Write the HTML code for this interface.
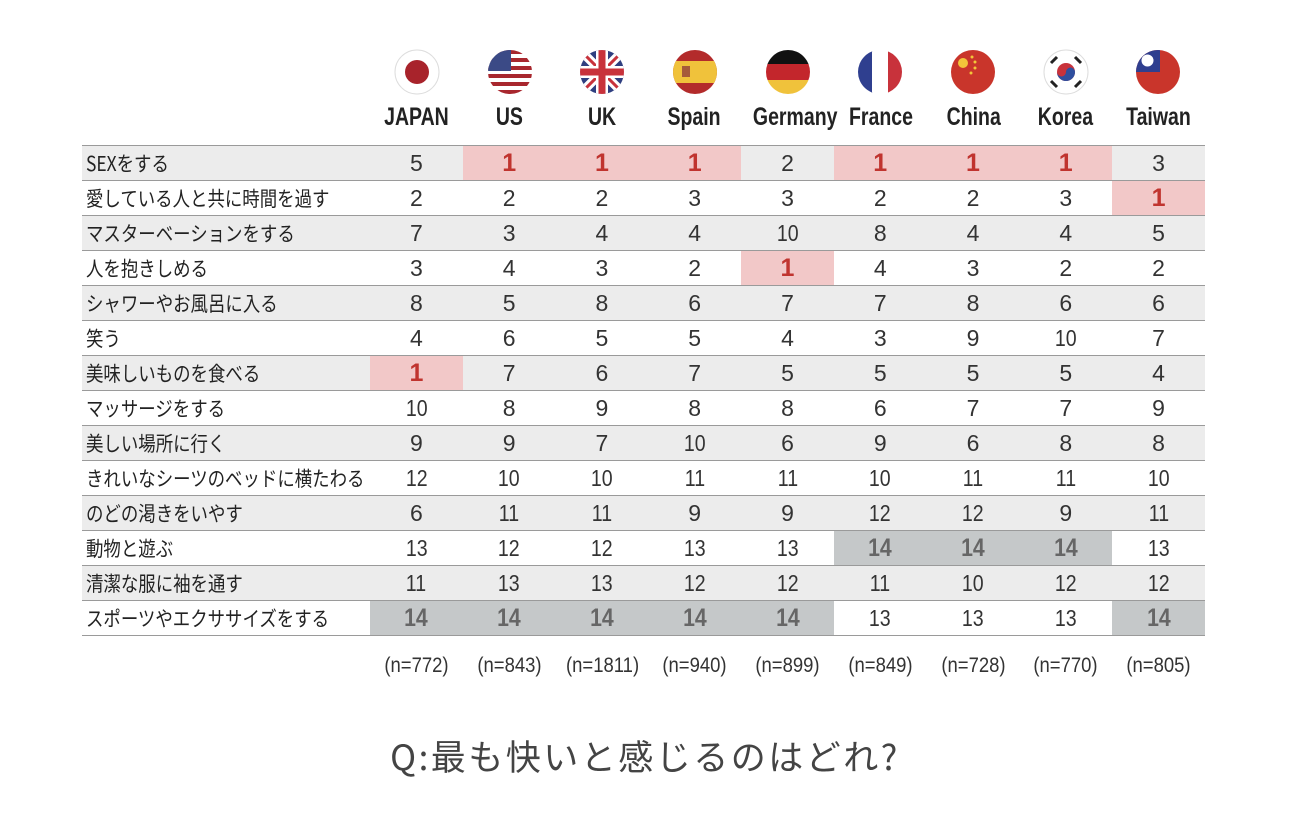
<!DOCTYPE html>
<html><head><meta charset="utf-8"><style>
body{margin:0;width:1290px;height:823px;background:#fff;position:relative;overflow:hidden;font-family:"Liberation Sans","Noto Sans CJK JP",sans-serif;color:#2b2b2b}
.flag{position:absolute;top:49px;width:46px;height:46px}
.cn{position:absolute;top:102px;width:93px;text-align:center;font-weight:bold;font-size:25px;color:#222;line-height:30px}
.cn span{display:inline-block;transform:scaleX(0.78)}
table{position:absolute;left:82px;top:145px;border-collapse:collapse;table-layout:fixed;width:1123px}
td{height:34px;padding:0;border-top:1.5px solid #9a9a9a;border-bottom:1.5px solid #9a9a9a;text-align:center;font-size:23px;color:#333;line-height:34px}
td span{display:inline-block;transform:scaleX(0.85)}
td.l{text-align:left;padding-left:4px;font-family:"Noto Sans CJK JP",sans-serif;font-size:20.5px;color:#222;white-space:nowrap;line-height:34px}
td.l span{transform:scaleX(0.85);transform-origin:left center;position:relative;top:-1px}
tr:nth-child(odd) td{background:#ececec}
td.p{background:#f2c8c8!important;color:#c0342f;font-weight:bold;font-size:25px}
td.g{background:#c5c8c9!important;color:#666;font-weight:bold;font-size:25px}
.n{position:absolute;top:654px;width:93px;text-align:center;font-size:21px;color:#333}
.n span{display:inline-block;transform:scaleX(0.88)}
.q{position:absolute;top:730px;left:0;width:1290px;text-align:center;font-family:"Noto Sans CJK JP",sans-serif;font-size:35px;letter-spacing:2.5px;color:#444}
</style></head><body>
<svg class="flag" style="left:394px" viewBox="0 0 46 46"><circle cx="23" cy="23" r="22" fill="#fff" stroke="#ddd"/><circle cx="23" cy="23" r="12" fill="#a8232b"/></svg>
<svg class="flag" style="left:487px" viewBox="0 0 46 46"><defs><clipPath id="c"><circle cx="23" cy="23" r="22"/></clipPath></defs><g clip-path="url(#c)"><rect width="46" height="46" fill="#fff"/><g fill="#a8272e"><rect y="1" width="46" height="4"/><rect y="9" width="46" height="4"/><rect y="17" width="46" height="4"/><rect y="25" width="46" height="4"/><rect y="33" width="46" height="4"/><rect y="41" width="46" height="4"/></g><rect width="24" height="22" fill="#3b4a86"/></g></svg>
<svg class="flag" style="left:579px" viewBox="0 0 46 46"><g clip-path="url(#c)"><rect width="46" height="46" fill="#2f3f80"/><path d="M0 0L46 46M46 0L0 46" stroke="#fff" stroke-width="9"/><path d="M0 0L46 46M46 0L0 46" stroke="#c8323b" stroke-width="3"/><path d="M23 0V46M0 23H46" stroke="#fff" stroke-width="12"/><path d="M23 0V46M0 23H46" stroke="#c8323b" stroke-width="7"/></g></svg>
<svg class="flag" style="left:672px" viewBox="0 0 46 46"><g clip-path="url(#c)"><rect width="46" height="46" fill="#b32b2b"/><rect y="12" width="46" height="22" fill="#f0c23b"/><rect x="10" y="17" width="8" height="11" fill="#a65a3a"/></g></svg>
<svg class="flag" style="left:765px" viewBox="0 0 46 46"><g clip-path="url(#c)"><rect width="46" height="16" fill="#111"/><rect y="15" width="46" height="16" fill="#c3262c"/><rect y="31" width="46" height="16" fill="#f0c23b"/></g></svg>
<svg class="flag" style="left:857px" viewBox="0 0 46 46"><g clip-path="url(#c)"><rect width="16" height="46" fill="#2f3f8f"/><rect x="15" width="16" height="46" fill="#fff"/><rect x="31" width="16" height="46" fill="#c8323b"/></g></svg>
<svg class="flag" style="left:950px" viewBox="0 0 46 46"><g clip-path="url(#c)"><rect width="46" height="46" fill="#c9352b"/><circle cx="13" cy="14" r="5" fill="#f2c63a"/><circle cx="22" cy="8" r="1.5" fill="#f2c63a"/><circle cx="25" cy="13" r="1.5" fill="#f2c63a"/><circle cx="25" cy="19" r="1.5" fill="#f2c63a"/><circle cx="21" cy="24" r="1.5" fill="#f2c63a"/></g></svg>
<svg class="flag" style="left:1043px" viewBox="0 0 46 46"><circle cx="23" cy="23" r="22" fill="#fff" stroke="#ddd"/><circle cx="23" cy="23" r="9" fill="#c8323b"/><path d="M14 23a9 9 0 0 0 18 0a4.5 4.5 0 0 0-9 0a4.5 4.5 0 0 1-9 0z" fill="#2f4f9f"/><g stroke="#222" stroke-width="3"><path d="M8 14l6-6M32 8l6 6M8 32l6 6M32 38l6-6"/></g></svg>
<svg class="flag" style="left:1135px" viewBox="0 0 46 46"><g clip-path="url(#c)"><rect width="46" height="46" fill="#c9352b"/><rect width="25" height="23" fill="#2f3f8f"/><circle cx="12.5" cy="11.5" r="6" fill="#fff"/></g></svg>
<div class="cn" style="left:370px"><span>JAPAN</span></div><div class="cn" style="left:463px"><span>US</span></div><div class="cn" style="left:556px"><span>UK</span></div><div class="cn" style="left:648px"><span>Spain</span></div><div class="cn" style="left:741px"><span>Germany</span></div><div class="cn" style="left:834px"><span>France</span></div><div class="cn" style="left:927px"><span>China</span></div><div class="cn" style="left:1019px"><span>Korea</span></div><div class="cn" style="left:1112px"><span>Taiwan</span></div>
<table><colgroup><col style="width:288px"><col span="9" style="width:92.78px"></colgroup>
<tr><td class="l"><span>SEXをする</span></td><td>5</td><td class="p">1</td><td class="p">1</td><td class="p">1</td><td>2</td><td class="p">1</td><td class="p">1</td><td class="p">1</td><td>3</td></tr>
<tr><td class="l"><span>愛している人と共に時間を過す</span></td><td>2</td><td>2</td><td>2</td><td>3</td><td>3</td><td>2</td><td>2</td><td>3</td><td class="p">1</td></tr>
<tr><td class="l"><span>マスターベーションをする</span></td><td>7</td><td>3</td><td>4</td><td>4</td><td><span>10</span></td><td>8</td><td>4</td><td>4</td><td>5</td></tr>
<tr><td class="l"><span>人を抱きしめる</span></td><td>3</td><td>4</td><td>3</td><td>2</td><td class="p">1</td><td>4</td><td>3</td><td>2</td><td>2</td></tr>
<tr><td class="l"><span>シャワーやお風呂に入る</span></td><td>8</td><td>5</td><td>8</td><td>6</td><td>7</td><td>7</td><td>8</td><td>6</td><td>6</td></tr>
<tr><td class="l"><span>笑う</span></td><td>4</td><td>6</td><td>5</td><td>5</td><td>4</td><td>3</td><td>9</td><td><span>10</span></td><td>7</td></tr>
<tr><td class="l"><span>美味しいものを食べる</span></td><td class="p">1</td><td>7</td><td>6</td><td>7</td><td>5</td><td>5</td><td>5</td><td>5</td><td>4</td></tr>
<tr><td class="l"><span>マッサージをする</span></td><td><span>10</span></td><td>8</td><td>9</td><td>8</td><td>8</td><td>6</td><td>7</td><td>7</td><td>9</td></tr>
<tr><td class="l"><span>美しい場所に行く</span></td><td>9</td><td>9</td><td>7</td><td><span>10</span></td><td>6</td><td>9</td><td>6</td><td>8</td><td>8</td></tr>
<tr><td class="l"><span>きれいなシーツのベッドに横たわる</span></td><td><span>12</span></td><td><span>10</span></td><td><span>10</span></td><td><span>11</span></td><td><span>11</span></td><td><span>10</span></td><td><span>11</span></td><td><span>11</span></td><td><span>10</span></td></tr>
<tr><td class="l"><span>のどの渇きをいやす</span></td><td>6</td><td><span>11</span></td><td><span>11</span></td><td>9</td><td>9</td><td><span>12</span></td><td><span>12</span></td><td>9</td><td><span>11</span></td></tr>
<tr><td class="l"><span>動物と遊ぶ</span></td><td><span>13</span></td><td><span>12</span></td><td><span>12</span></td><td><span>13</span></td><td><span>13</span></td><td class="g"><span>14</span></td><td class="g"><span>14</span></td><td class="g"><span>14</span></td><td><span>13</span></td></tr>
<tr><td class="l"><span>清潔な服に袖を通す</span></td><td><span>11</span></td><td><span>13</span></td><td><span>13</span></td><td><span>12</span></td><td><span>12</span></td><td><span>11</span></td><td><span>10</span></td><td><span>12</span></td><td><span>12</span></td></tr>
<tr><td class="l"><span>スポーツやエクササイズをする</span></td><td class="g"><span>14</span></td><td class="g"><span>14</span></td><td class="g"><span>14</span></td><td class="g"><span>14</span></td><td class="g"><span>14</span></td><td><span>13</span></td><td><span>13</span></td><td><span>13</span></td><td class="g"><span>14</span></td></tr>
</table>
<div class="n" style="left:370px"><span>(n=772)</span></div><div class="n" style="left:463px"><span>(n=843)</span></div><div class="n" style="left:556px"><span>(n=1811)</span></div><div class="n" style="left:648px"><span>(n=940)</span></div><div class="n" style="left:741px"><span>(n=899)</span></div><div class="n" style="left:834px"><span>(n=849)</span></div><div class="n" style="left:927px"><span>(n=728)</span></div><div class="n" style="left:1019px"><span>(n=770)</span></div><div class="n" style="left:1112px"><span>(n=805)</span></div>
<div class="q">Q:最も快いと感じるのはどれ?</div>
</body></html>
